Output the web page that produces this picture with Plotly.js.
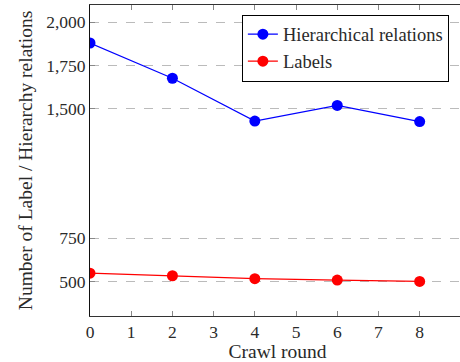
<!DOCTYPE html>
<html>
<head>
<meta charset="utf-8">
<script src="https://cdn.plot.ly/plotly-3.0.1.min.js"></script>
<style>
html,body{margin:0;padding:0;background:#fff;overflow:hidden;}
#chart{width:470px;height:362px;}
</style>
</head>
<body>
<div id="chart"></div>
<script>
const rounds = [0, 2, 4, 6, 8];
const hierarchical = [1880, 1676, 1428, 1519, 1425];
const labels = [548, 533, 516, 508, 500];
const seriesNames = ["Hierarchical relations", "Labels"];
const yTicks = [500, 750, 1500, 1750, 2000];
const xTicks = [0, 1, 2, 3, 4, 5, 6, 7, 8, 9];
const xTickText = ["0", "1", "2", "3", "4", "5", "6", "7", "8", ""];

const font = {family: "Liberation Serif", size: 19.5, color: "#2a2a2a"};
const tickFont = {family: "Liberation Serif", size: 17.5, color: "#2a2a2a"};
const legendFont = {family: "Liberation Serif", size: 18.5, color: "#2a2a2a"};

const traces = [
  {x: rounds, y: hierarchical, name: seriesNames[0], type: "scatter", mode: "lines+markers",
   line: {color: "#0000ff", width: 1.2}, marker: {color: "#0000ff", size: 11}},
  {x: rounds, y: labels, name: seriesNames[1], type: "scatter", mode: "lines+markers",
   line: {color: "#ff0000", width: 1.2}, marker: {color: "#ff0000", size: 11}}
];

const layout = {
  width: 470, height: 362,
  margin: {l: 90, r: 5, t: 5, b: 46},
  paper_bgcolor: "#fff", plot_bgcolor: "#fff",
  font: font,
  showlegend: true,
  legend: {x: 0.957, y: 0.969, xanchor: "right", yanchor: "top",
    bordercolor: "#000", borderwidth: 1, bgcolor: "#fff",
    font: legendFont, tracegroupgap: 0, itemwidth: 30},
  xaxis: {range: [0, 9.1], tickvals: xTicks, ticktext: xTickText, ticks: "inside", ticklen: 5,
    tickcolor: "#888", showline: true, linecolor: "#333", linewidth: 1, mirror: "ticks",
    showgrid: false, zeroline: false, tickfont: tickFont,
    title: {text: "Crawl round", font: font, standoff: 8}},
  yaxis: {range: [300, 2100], tickvals: yTicks, tickformat: ",", ticks: "inside", ticklen: 5,
    tickcolor: "#888", showline: true, linecolor: "#111", linewidth: 1, mirror: "ticks",
    showgrid: true, gridcolor: "#bbb", griddash: "dash", gridwidth: 1, zeroline: false,
    tickfont: tickFont,
    title: {text: "Number of Label / Hierarchy relations", font: font, standoff: 8}}
};

Plotly.newPlot("chart", traces, layout, {displayModeBar: false, staticPlot: true});
</script>
</body>
</html>
